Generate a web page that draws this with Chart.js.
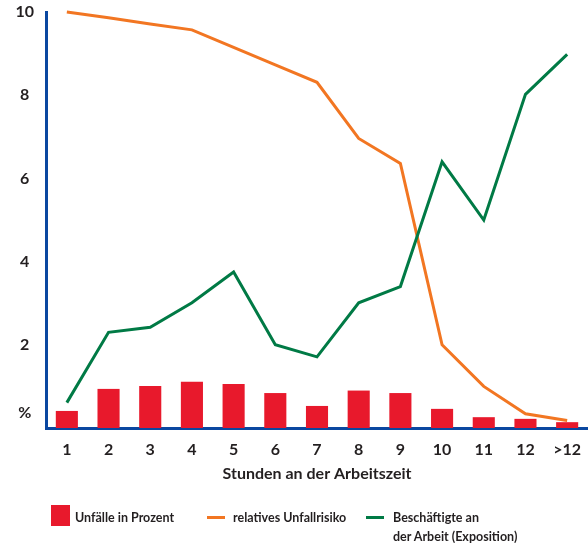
<!DOCTYPE html>
<html>
<head>
<meta charset="utf-8">
<script src="https://cdn.jsdelivr.net/npm/chart.js@4.4.1/dist/chart.umd.min.js"></script>
<style>
  html, body { margin: 0; padding: 0; background: #ffffff; }
  #wrap { position: relative; width: 588px; height: 543px; overflow: hidden; }
  #c { position: absolute; left: 0; top: 0; }
  .lg { position: absolute; font-family: Lato, 'Noto Sans', sans-serif; font-weight: bold; font-size: 12.5px; color: #231f20; line-height: 19px; white-space: nowrap; }
  .sw { position: absolute; }
</style>
</head>
<body>
<div id="wrap">
  <canvas id="c" width="588" height="543"></canvas>
  <div id="legend"></div>
</div>
<script>
const categories = ['1', '2', '3', '4', '5', '6', '7', '8', '9', '10', '11', '12', '>12'];
const unfaelleProzent = [0.41, 0.94, 1.01, 1.11, 1.06, 0.84, 0.53, 0.90, 0.84, 0.46, 0.26, 0.22, 0.14];
const relativesRisiko = [10.0, 9.86, 9.71, 9.57, 9.15, 8.73, 8.31, 6.96, 6.36, 2.0, 1.0, 0.34, 0.18];
const beschaeftigte = [0.61, 2.30, 2.42, 3.01, 3.75, 2.0, 1.71, 3.01, 3.40, 6.40, 5.0, 8.02, 8.98];
const yTickValues = [0.37, 2, 4, 6, 8, 10];
const yTickLabels = ['%', '2', '4', '6', '8', '10'];
const seriesNames = ['Unfälle in Prozent', 'relatives Unfallrisiko', ['Beschäftigte an', 'der Arbeit (Exposition)']];
const xTitle = 'Stunden an der Arbeitszeit';

const RED = '#e8192c', ORANGE = '#f27622', GREEN = '#007a45', BLUE = '#0a47a0', TXT = '#231f20';
const FONT = "Lato, 'Noto Sans', sans-serif";

new Chart(document.getElementById('c'), {
  data: {
    labels: categories,
    datasets: [
      { type: 'bar', label: seriesNames[0], data: unfaelleProzent, backgroundColor: RED, borderWidth: 0,
        categoryPercentage: 1, barPercentage: 0.53, order: 3 },
      { type: 'line', label: seriesNames[1], data: relativesRisiko, borderColor: ORANGE, borderWidth: 3,
        pointRadius: 0, tension: 0, fill: false, clip: false, order: 2 },
      { type: 'line', label: seriesNames[2].join(' '), data: beschaeftigte, borderColor: GREEN, borderWidth: 3,
        pointRadius: 0, tension: 0, fill: false, clip: false, order: 1 }
    ]
  },
  options: {
    responsive: false,
    animation: false,
    layout: { padding: { top: 12, right: 0, left: 0, bottom: 60 } },
    plugins: { legend: { display: false }, tooltip: { enabled: false } },
    scales: {
      x: {
        type: 'category',
        offset: true,
        grid: { display: false, drawTicks: false },
        border: { display: true, color: BLUE, width: 3 },
        ticks: { color: TXT, padding: 12, font: { family: FONT, size: 16, weight: 'bold' }, maxRotation: 0, autoSkip: false },
        title: { display: true, text: xTitle, color: TXT, padding: { top: 4, bottom: 0 }, font: { family: FONT, size: 16, weight: 'bold' } },
        afterFit: (s) => { s.height = 55; s.paddingLeft = 0; s.paddingRight = 0; }
      },
      y: {
        min: 0, max: 10,
        grid: { display: false, drawTicks: false },
        border: { display: true, color: BLUE, width: 3 },
        afterBuildTicks: (s) => { s.ticks = yTickValues.map(v => ({ value: v })); },
        ticks: {
          color: TXT, padding: 12, crossAlign: 'center',
          font: { family: FONT, size: 16, weight: 'bold' },
          callback: (v) => { const i = yTickValues.indexOf(v); return i >= 0 ? yTickLabels[i] : ''; }
        },
        afterFit: (s) => { s.width = 46; s.paddingTop = 0; s.paddingBottom = 0; }
      }
    }
  }
});

// HTML legend (real text)
const lg = document.getElementById('legend');
function add(html) { lg.insertAdjacentHTML('beforeend', html); }
add(`<div class="sw" style="left:51px;top:505px;width:19px;height:21px;background:${RED}"></div>`);
add(`<div class="lg" style="left:75px;top:508px;">${seriesNames[0]}</div>`);
add(`<div class="sw" style="left:207px;top:516px;width:18px;height:3px;background:${ORANGE}"></div>`);
add(`<div class="lg" style="left:233px;top:508px;">${seriesNames[1]}</div>`);
add(`<div class="sw" style="left:366px;top:516px;width:18px;height:3px;background:${GREEN}"></div>`);
add(`<div class="lg" style="left:393px;top:508px;">${seriesNames[2][0]}<br>${seriesNames[2][1]}</div>`);
</script>
</body>
</html>
